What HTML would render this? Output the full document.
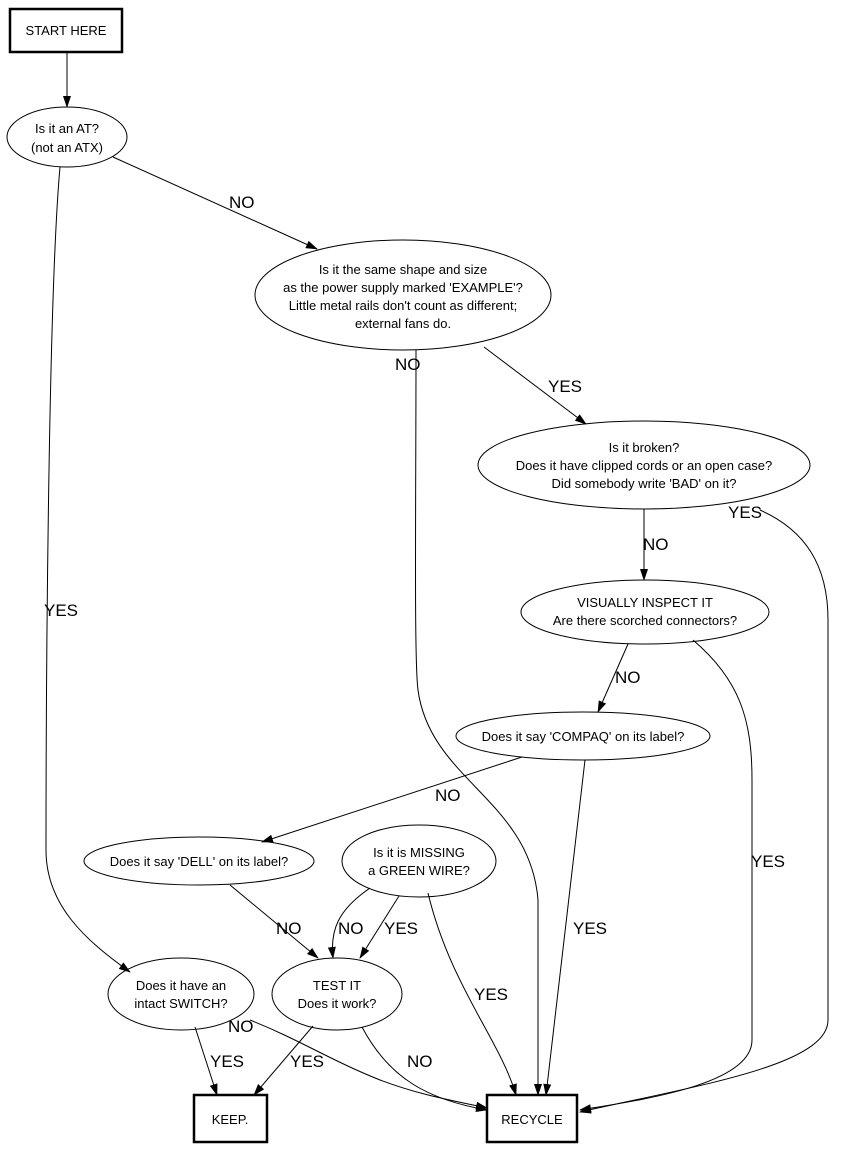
<!DOCTYPE html>
<html><head><meta charset="utf-8"><style>
html,body{margin:0;padding:0;background:#fff;}
svg{display:block;}
text{font-family:"Liberation Sans",sans-serif;fill:#000;}
.n{font-size:13px;text-anchor:middle;}
.l{font-size:17px;}
</style></head><body>
<svg width="848" height="1149" viewBox="0 0 848 1149" xmlns="http://www.w3.org/2000/svg">
<defs><marker id="a" markerWidth="12" markerHeight="10" refX="11" refY="4" orient="auto" markerUnits="userSpaceOnUse"><path d="M0,0 L12,4 L0,8 z" fill="#000"/></marker></defs>
<g fill="#fff" stroke="#000">
<rect x="10" y="9" width="112" height="43" stroke-width="2.5"/>
<ellipse cx="67" cy="137" rx="60" ry="30"/>
<ellipse cx="403" cy="295" rx="148" ry="55"/>
<ellipse cx="644" cy="465" rx="166" ry="44"/>
<ellipse cx="645" cy="612" rx="124" ry="32"/>
<ellipse cx="583" cy="736" rx="127" ry="24"/>
<ellipse cx="199" cy="861" rx="115" ry="24"/>
<ellipse cx="419" cy="861" rx="77" ry="36"/>
<ellipse cx="181" cy="994" rx="73" ry="36"/>
<ellipse cx="337" cy="994" rx="65" ry="36"/>
<rect x="194" y="1095" width="73" height="47" stroke-width="2.5"/>
<rect x="487" y="1095" width="90" height="47" stroke-width="2.5"/>
</g>
<g fill="none" stroke="#000" stroke-width="1">
<path d="M67,53 L67,107" marker-end="url(#a)"/>
<path d="M113,157 L317,249" marker-end="url(#a)"/>
<path d="M60,167 C48,300 46,700 46,850 C46,905 85,940 130,972" marker-end="url(#a)"/>
<path d="M484,347 L586,424" marker-end="url(#a)"/>
<path d="M416,350 C416,500 414,660 418,690 C430,780 530,800 538,900 L538,1095" marker-end="url(#a)"/>
<path d="M644,509 L644,580" marker-end="url(#a)"/>
<path d="M760,510 C805,530 828,565 828,620 L828,1020 C828,1065 700,1085 580,1112" marker-end="url(#a)"/>
<path d="M628,644 L598,712" marker-end="url(#a)"/>
<path d="M693,640 C740,680 752,720 752,780 L752,1040 C752,1085 640,1100 580,1110" marker-end="url(#a)"/>
<path d="M522,757 L262,842" marker-end="url(#a)"/>
<path d="M585,760 L546,1095" marker-end="url(#a)"/>
<path d="M230,885 L318,958" marker-end="url(#a)"/>
<path d="M370,888 C338,910 330,930 333,958" marker-end="url(#a)"/>
<path d="M399,896 L360,958" marker-end="url(#a)"/>
<path d="M428,893 C450,985 500,1040 516,1095" marker-end="url(#a)"/>
<path d="M195,1027 L217,1095" marker-end="url(#a)"/>
<path d="M250,1020 C300,1040 330,1060 380,1080 C420,1095 450,1100 487,1108" marker-end="url(#a)"/>
<path d="M313,1026 L254,1095" marker-end="url(#a)"/>
<path d="M362,1027 C390,1080 430,1100 487,1110" marker-end="url(#a)"/>
</g>
<text class="n" x="66" y="35">START HERE</text>
<text class="n" x="67" y="133">Is it an AT?</text>
<text class="n" x="67" y="152">(not an ATX)</text>
<text class="n" x="403" y="274">Is it the same shape and size</text>
<text class="n" x="403" y="292">as the power supply marked 'EXAMPLE'?</text>
<text class="n" x="403" y="310">Little metal rails don't count as different;</text>
<text class="n" x="403" y="328">external fans do.</text>
<text class="n" x="644" y="452">Is it broken?</text>
<text class="n" x="644" y="470">Does it have clipped cords or an open case?</text>
<text class="n" x="644" y="488">Did somebody write 'BAD' on it?</text>
<text class="n" x="645" y="607">VISUALLY INSPECT IT</text>
<text class="n" x="645" y="625">Are there scorched connectors?</text>
<text class="n" x="583" y="741">Does it say 'COMPAQ' on its label?</text>
<text class="n" x="199" y="866">Does it say 'DELL' on its label?</text>
<text class="n" x="419" y="857">Is it is MISSING</text>
<text class="n" x="419" y="875">a GREEN WIRE?</text>
<text class="n" x="181" y="990">Does it have an</text>
<text class="n" x="181" y="1008">intact SWITCH?</text>
<text class="n" x="337" y="990">TEST IT</text>
<text class="n" x="337" y="1008">Does it work?</text>
<text class="n" x="230" y="1124">KEEP.</text>
<text class="n" x="532" y="1124">RECYCLE</text>
<text class="l" x="229" y="208">NO</text>
<text class="l" x="44" y="616">YES</text>
<text class="l" x="395" y="370">NO</text>
<text class="l" x="548" y="392">YES</text>
<text class="l" x="643" y="550">NO</text>
<text class="l" x="728" y="518">YES</text>
<text class="l" x="615" y="683">NO</text>
<text class="l" x="751" y="867">YES</text>
<text class="l" x="435" y="801">NO</text>
<text class="l" x="573" y="934">YES</text>
<text class="l" x="276" y="934">NO</text>
<text class="l" x="338" y="934">NO</text>
<text class="l" x="384" y="934">YES</text>
<text class="l" x="474" y="1000">YES</text>
<text class="l" x="228" y="1032">NO</text>
<text class="l" x="210" y="1067">YES</text>
<text class="l" x="290" y="1067">YES</text>
<text class="l" x="407" y="1067">NO</text>
</svg>
</body></html>
